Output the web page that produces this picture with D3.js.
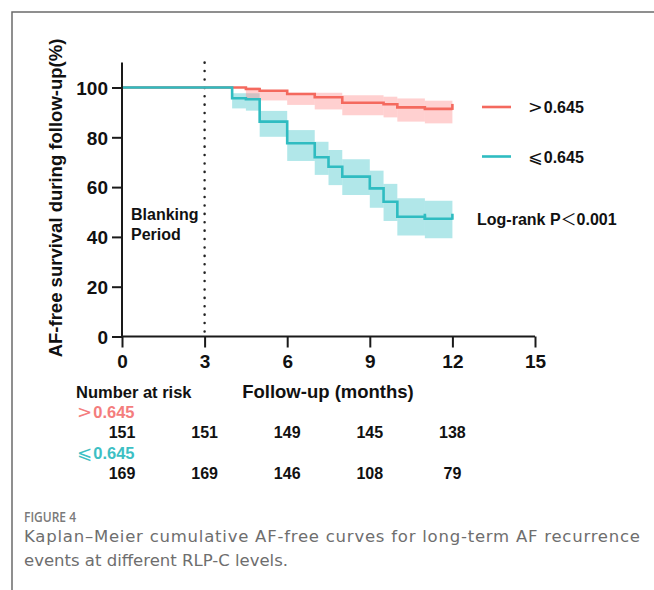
<!DOCTYPE html>
<html>
<head>
<meta charset="utf-8">
<script src="https://cdn.jsdelivr.net/npm/d3@7"></script>
<style>
  html, body { margin: 0; padding: 0; background: #fff; }
  svg text { font-family: "Liberation Sans", Arial, sans-serif; }
  .sym { font-family: "DejaVu Sans", sans-serif; font-weight: normal; }
  .symcjk { font-family: "Noto Sans CJK SC", sans-serif; font-weight: normal; }
</style>
</head>
<body>
<script>
// groups (symbol + cut-off)
const groupSymbols = [">", "⩽"];
const groupCut = ["0.645", "0.645"];
const groupColors = ["#f4695e", "#2fbcc1"];
const bandColors = ["#ff8a8a", "#3cc4c8"];

// step curve: high RLP-C group
const highTimes = [0, 4.5, 5, 6, 7, 8, 9.5, 10, 11, 12];
const highSurv  = [100, 99.4, 98.7, 97.4, 96.1, 93.9, 93.3, 92.0, 91.4, 91.4];
const highUpper = [100, 100, 98.9, 97.9, 97.9, 96.9, 96.3, 95.6, 94.7, 94.7];
const highLower = [100, 95.3, 94.8, 93.0, 91.2, 88.9, 88.0, 86.3, 85.6, 85.6];

// step curve: low RLP-C group
const lowTimes = [0, 4, 4.5, 5, 6, 7, 7.5, 8, 9, 9.5, 10, 11, 12];
const lowSurv  = [100, 95.7, 95.3, 86.3, 77.6, 72.0, 68.2, 64.2, 59.5, 54.1, 48.1, 47.3, 47.3];
const lowUpper = [100, 97.7, 97.7, 90.6, 82.9, 78.2, 74.9, 71.2, 66.6, 61.3, 55.5, 54.5, 54.5];
const lowLower = [100, 91.6, 90.7, 80.2, 70.5, 64.9, 60.8, 56.8, 51.7, 46.4, 40.6, 39.5, 39.5];

// censor marks
const highCensor = [12];
const lowCensor = [11, 12];

// axes
const xTicks = [0, 3, 6, 9, 12, 15];
const yTicks = [0, 20, 40, 60, 80, 100];

// number at risk
const riskTimes = [0, 3, 6, 9, 12];
const riskHigh = [151, 151, 149, 145, 138];
const riskLow  = [169, 169, 146, 108, 79];

const W = 654, H = 590;
const svg = d3.select("body").append("svg")
  .attr("width", W).attr("height", H);

// figure frame (left and top rule)
svg.append("path")
  .attr("d", `M12,${H} V12 H${W}`)
  .attr("fill", "none").attr("stroke", "#6b6b6b").attr("stroke-width", 1.5);

const x = d3.scaleLinear().domain([0, 15]).range([122, 535]);
const y = d3.scaleLinear().domain([0, 100]).range([336.5, 87.5]);
const yTop = y(110);

// confidence bands
function bandData(times, up, lo) {
  const out = [];
  for (let i = 0; i < times.length - 1; i++) {
    if (up[i] === lo[i]) continue;
    out.push({ x0: times[i], x1: times[i + 1], up: up[i], lo: lo[i] });
  }
  return out;
}
const bandSets = [
  bandData(lowTimes, lowUpper, lowLower),
  bandData(highTimes, highUpper, highLower)
];
const bandFill = [bandColors[1], bandColors[0]];
bandSets.forEach((set, k) => {
  const area = d3.area()
    .curve(d3.curveStepAfter)
    .x(d => x(d.t)).y0(d => y(d.lo)).y1(d => y(d.up));
  set.forEach(b => {
    svg.append("path")
      .datum([{ t: b.x0, up: b.up, lo: b.lo }, { t: b.x1, up: b.up, lo: b.lo }])
      .attr("d", area)
      .attr("fill", bandFill[k])
      .attr("fill-opacity", 0.4);
  });
});

// blanking period line
svg.append("line")
  .attr("x1", x(3)).attr("x2", x(3))
  .attr("y1", yTop).attr("y2", y(0))
  .attr("stroke", "#222").attr("stroke-width", 2.5)
  .attr("stroke-linecap", "round")
  .attr("stroke-dasharray", "0.1,8.3");

// survival curves
const line = d3.line().curve(d3.curveStepAfter).x(d => x(d[0])).y(d => y(d[1]));
const curves = [
  { t: highTimes, s: highSurv, c: groupColors[0], cens: highCensor },
  { t: lowTimes, s: lowSurv, c: groupColors[1], cens: lowCensor }
];
curves.forEach(cv => {
  svg.append("path")
    .datum(d3.zip(cv.t, cv.s))
    .attr("d", line)
    .attr("fill", "none").attr("stroke", cv.c).attr("stroke-width", 2.6);
  cv.cens.forEach(tc => {
    const i = d3.bisectRight(cv.t, tc) - 1;
    svg.append("line")
      .attr("x1", x(tc)).attr("x2", x(tc))
      .attr("y1", y(cv.s[i]) + 1).attr("y2", y(cv.s[i]) - 5)
      .attr("stroke", cv.c).attr("stroke-width", 2.6);
  });
});

// axes
const gx = svg.append("g")
  .attr("transform", `translate(0,${y(0)})`)
  .call(d3.axisBottom(x).tickValues(xTicks).tickSize(11).tickPadding(7));
const gy = svg.append("g")
  .attr("transform", `translate(${x(0)},0)`)
  .call(d3.axisLeft(y).tickValues(yTicks).tickSize(10).tickPadding(4));
gy.select(".domain").attr("d", `M0,${yTop}V${y(0)}`);
gx.select(".domain").attr("d", `M${x(0)},0H${x(15)}`);
[gx, gy].forEach(g => {
  g.select(".domain").attr("stroke", "#1a1a1a").attr("stroke-width", 2);
  g.selectAll(".tick line").attr("stroke", "#1a1a1a").attr("stroke-width", 2);
  g.selectAll(".tick text")
    .attr("fill", "#111").style("font-size", "19px").style("font-weight", "bold");
});
gy.selectAll(".tick text").attr("dy", "0.36em");

// y title
svg.append("text")
  .attr("transform", `translate(62,198) rotate(-90)`)
  .attr("text-anchor", "middle")
  .style("font-size", "18.5px").style("font-weight", "bold").attr("fill", "#111")
  .text("AF-free survival during follow-up(%)");

// blanking label
svg.append("text")
  .attr("x", 131).attr("y", 220)
  .style("font-size", "16px").style("font-weight", "bold").attr("fill", "#111")
  .selectAll("tspan").data(["Blanking", "Period"]).join("tspan")
  .attr("x", 131).attr("dy", (d, i) => i ? 20 : 0).text(d => d);

// label with a thin symbol glyph
function symLabel(sel, sym, rest) {
  sel.append("tspan").attr("class", "sym").style("font-size", "1.1em").text(sym);
  sel.append("tspan").attr("dx", 1).text(rest);
  return sel;
}

// legend
groupSymbols.forEach((g, i) => {
  const ly = 107 + i * 49.5;
  svg.append("line")
    .attr("x1", 482).attr("x2", 511).attr("y1", ly).attr("y2", ly)
    .attr("stroke", groupColors[i]).attr("stroke-width", 2.6);
  const t = svg.append("text")
    .attr("x", 528).attr("y", ly + 6)
    .style("font-size", "16px").style("font-weight", "bold").attr("fill", "#111");
  symLabel(t, g, groupCut[i]);
});
const lr = svg.append("text")
  .attr("x", 477).attr("y", 225)
  .style("font-size", "16px").style("font-weight", "bold").attr("fill", "#111")
  .text("Log-rank P");
lr.append("tspan").attr("class", "symcjk").text("＜");
lr.append("tspan").text("0.001");

// x title and risk table
svg.append("text")
  .attr("x", 328).attr("y", 398).attr("text-anchor", "middle")
  .style("font-size", "18.5px").style("font-weight", "bold").attr("fill", "#111")
  .text("Follow-up (months)");
svg.append("text")
  .attr("x", 76).attr("y", 398)
  .style("font-size", "16.5px").style("font-weight", "bold").attr("fill", "#111")
  .text("Number at risk");

const riskRows = [riskHigh, riskLow];
const riskLabelColors = ["#f47d7d", "#3dbfc4"];
riskRows.forEach((row, i) => {
  const base = 418 + i * 41;
  const t = svg.append("text")
    .attr("x", 77).attr("y", base)
    .style("font-size", "16.5px").style("font-weight", "bold")
    .attr("fill", riskLabelColors[i]);
  symLabel(t, groupSymbols[i], groupCut[i]);
  svg.append("g").selectAll("text").data(riskTimes).join("text")
    .attr("x", d => x(d)).attr("y", base + 20)
    .attr("text-anchor", "middle")
    .style("font-size", "16px").style("font-weight", "bold").attr("fill", "#111")
    .text((d, j) => row[j]);
});

// caption
const capFont = "'DejaVu Sans', 'Open Sans', sans-serif";
svg.append("text")
  .attr("x", 24).attr("y", 522)
  .attr("textLength", 52).attr("lengthAdjust", "spacingAndGlyphs")
  .style("font-family", "'Open Sans', sans-serif").style("font-weight", 600)
  .style("font-size", "15px").attr("fill", "#7a7a7a")
  .text("FIGURE 4");
svg.append("text")
  .attr("x", 24).attr("y", 542)
  .attr("textLength", 616).attr("lengthAdjust", "spacing")
  .style("font-family", capFont)
  .style("font-size", "16.5px").attr("fill", "#6e6e6e")
  .text("Kaplan–Meier cumulative AF-free curves for long-term AF recurrence");
svg.append("text")
  .attr("x", 24).attr("y", 566)
  .style("font-family", capFont)
  .style("font-size", "16.5px").attr("fill", "#6e6e6e")
  .text("events at different RLP-C levels.");
</script>
</body>
</html>
